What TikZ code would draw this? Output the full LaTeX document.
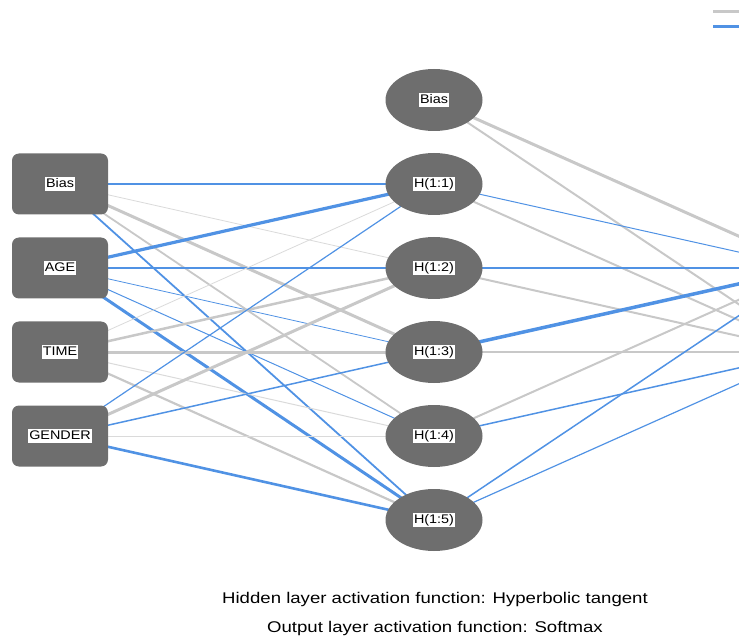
\documentclass[tikz,border=0pt]{standalone}
\usepackage{fontspec}
\setmainfont{Liberation Sans}
\usetikzlibrary{shapes.geometric,backgrounds}
\definecolor{nodegray}{HTML}{6E6E6E}
\definecolor{wpos}{HTML}{C8C8C8}
\definecolor{wposl}{HTML}{DADADA}
\definecolor{wneg}{HTML}{5092E4}
\newcommand\nnlab[1]{{\setlength\fboxsep{1.3pt}\colorbox{white}{\scalebox{1.15}[1]{\fontsize{12.5}{13}\selectfont\vphantom{(}#1}}}}
\tikzset{
  inbox/.style={rectangle, rounded corners=7pt, fill=nodegray, minimum width=96pt, minimum height=61pt, inner sep=0pt},
  hid/.style={ellipse, fill=nodegray, minimum width=97pt, minimum height=62pt, inner sep=0pt},
  pw/.style={draw=wpos, line width=#1pt},
  lw/.style={draw=wposl, line width=#1pt},
  nw/.style={draw=wneg, line width=#1pt},
  caption/.style={inner sep=0pt}
}
\newcommand\captext[1]{\scalebox{1.2}[1]{\fontsize{15.5}{17}\selectfont #1}}
\begin{document}
\begin{tikzpicture}[x=1pt,y=-1pt]
\clip (0,0) rectangle (739,644);
% input layer
\node[inbox] (ib) at (60,184) {\nnlab{Bias}};
\node[inbox] (ia) at (60,268) {\nnlab{AGE}};
\node[inbox] (it) at (60,352) {\nnlab{TIME}};
\node[inbox] (ig) at (60,436) {\nnlab{GENDER}};
% hidden layer
\node[hid] (hb) at (434,100) {\nnlab{Bias}};
\node[hid] (h1) at (434,184) {\nnlab{H(1:1)}};
\node[hid] (h2) at (434,268) {\nnlab{H(1:2)}};
\node[hid] (h3) at (434,352) {\nnlab{H(1:3)}};
\node[hid] (h4) at (434,436) {\nnlab{H(1:4)}};
\node[hid] (h5) at (434,520) {\nnlab{H(1:5)}};
% output layer (outside the visible area)
\coordinate (o1) at (810,268);
\coordinate (o2) at (810,352);
% legend (cut off)
\coordinate (lg1) at (713,12);
\coordinate (lg1e) at (745,12);
\coordinate (lg2) at (713,27);
\coordinate (lg2e) at (745,27);
\draw[pw=3] (lg1) -- (lg1e);
\draw[nw=3] (lg2) -- (lg2e);
\begin{scope}[on background layer]
% Bias input
\draw[nw=2.8] (ib.center) -- (h1.center);
\draw[lw=0.8] (ib.center) -- (h2.center);
\draw[pw=3] (ib.center) -- (h3.center);
\draw[pw=1.8] (ib.center) -- (h4.center);
\draw[nw=1.8] (ib.center) -- (h5.center);
% AGE
\draw[nw=3.2] (ia.center) -- (h1.center);
\draw[nw=2] (ia.center) -- (h2.center);
\draw[nw=0.8] (ia.center) -- (h3.center);
\draw[nw=1] (ia.center) -- (h4.center);
\draw[nw=3] (ia.center) -- (h5.center);
% TIME
\draw[lw=0.8] (it.center) -- (h1.center);
\draw[pw=2.5] (it.center) -- (h2.center);
\draw[pw=3] (it.center) -- (h3.center);
\draw[lw=1] (it.center) -- (h4.center);
\draw[pw=2.2] (it.center) -- (h5.center);
% GENDER
\draw[nw=1.2] (ig.center) -- (h1.center);
\draw[pw=3] (ig.center) -- (h2.center);
\draw[nw=1.5] (ig.center) -- (h3.center);
\draw[lw=0.8] (ig.center) -- (h4.center);
\draw[nw=2.6] (ig.center) -- (h5.center);
% hidden to output
\draw[pw=3] (hb.center) -- (o1);
\draw[pw=2] (hb.center) -- (o2);
\draw[nw=1] (h1.center) -- (o1);
\draw[pw=2] (h1.center) -- (o2);
\draw[nw=2] (h2.center) -- (o1);
\draw[pw=2] (h2.center) -- (o2);
\draw[nw=3.5] (h3.center) -- (o1);
\draw[pw=2.6] (h3.center) -- (o2);
\draw[pw=2] (h4.center) -- (o1);
\draw[nw=1.5] (h4.center) -- (o2);
\draw[nw=1.5] (h5.center) -- (o1);
\draw[nw=1.2] (h5.center) -- (o2);
\end{scope}
% captions
\node[caption] (c1) at (435,599) {\captext{Hidden layer activation function: Hyperbolic tangent}};
\node[caption] (c2) at (435,628) {\captext{Output layer activation function: Softmax}};
\end{tikzpicture}
\end{document}
